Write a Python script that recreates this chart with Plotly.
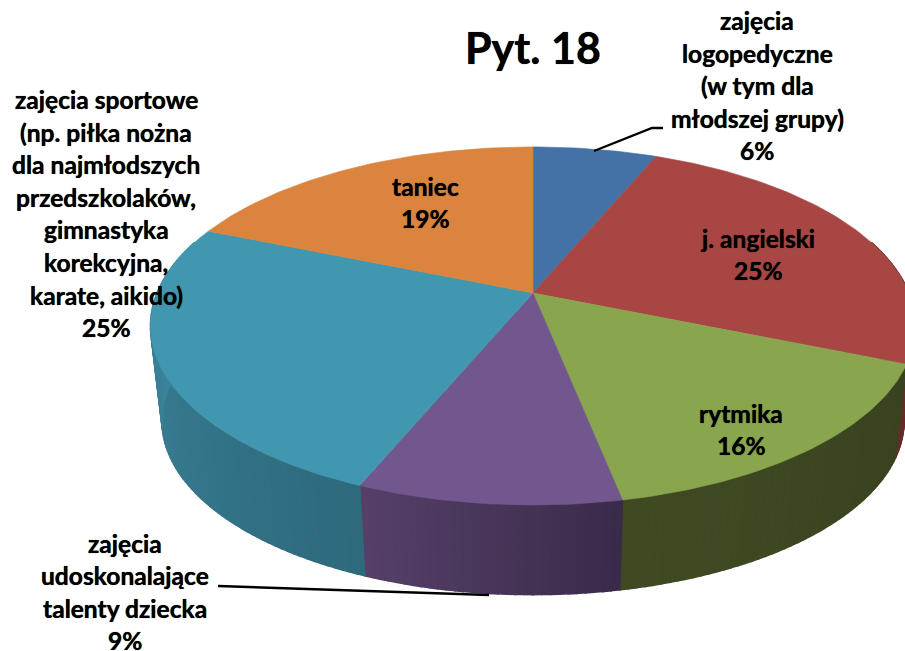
import math
import plotly.graph_objects as go

title = "Pyt. 18"
categories = [
    "zajęcia logopedyczne (w tym dla młodszej grupy)",
    "j. angielski",
    "rytmika",
    "zajęcia udoskonalające talenty dziecka",
    "zajęcia sportowe (np. piłka nożna dla najmłodszych przedszkolaków, gimnastyka korekcyjna, karate, aikido)",
    "taniec",
]
values = [2, 8, 5, 3, 8, 6]
label_lines = [
    ["zajęcia", "logopedyczne", "(w tym dla", "młodszej grupy)"],
    ["j. angielski"],
    ["rytmika"],
    ["zajęcia", "udoskonalające", "talenty dziecka"],
    ["zajęcia sportowe", "(np. piłka nożna", "dla najmłodszych", "przedszkolaków,", "gimnastyka", "korekcyjna,", "karate, aikido)"],
    ["taniec"],
]
top_colors = ["#4471A6", "#A84644", "#89A54E", "#71578D", "#4197AF", "#DA843D"]
side_colors = [
    ("#2A4565", "#2A4565"),
    ("#5E2624", "#6A2A28"),
    ("#3A4220", "#3F4A22"),
    ("#3A2B49", "#564069"),
    ("#2E697C", "#408CA4"),
    ("#8A5226", "#8A5226"),
]
# label placement: centre x, first line y, line pitch
label_pos = [(757, 20.5), (758, 238), (741, 413), (125, 543), (106, 99.5), (425, 186)]
PITCH = 32.6
SHADOW = "0px 0px 0.7px black"

# projection of the round pie
CX, CY, A, B, K = 533, 293, 173, 376, 0.184
CY2, S = 389, 0.97


def proj(theta, lower=False):
    u, v = math.sin(theta), -math.cos(theta)
    w = 1 - K * v
    s, cy = (S, CY2) if lower else (1.0, CY)
    return CX + s * B * u / w, cy + s * A * v / w


def hex2rgb(h):
    return tuple(int(h[i:i + 2], 16) for i in (1, 3, 5))


def mix(c1, c2, t):
    a, b = hex2rgb(c1), hex2rgb(c2)
    return "rgb({},{},{})".format(*(round(a[i] + (b[i] - a[i]) * t) for i in range(3)))


fig = go.Figure()
total = sum(values)
edges = [0]
for v in values:
    edges.append(edges[-1] + v)

# side wall (only the part turned to the viewer shows)
for i, v in enumerate(values):
    n = v * 10
    for j in range(n):
        t0 = 2 * math.pi * (edges[i] + v * j / n) / total
        t1 = 2 * math.pi * (edges[i] + v * (j + 1) / n) / total
        if math.cos((t0 + t1) / 2) > 0.3:
            continue
        p = [proj(t0 + (t1 - t0) * q / 4) for q in range(5)]
        p += [proj(t1 - (t1 - t0) * q / 4, lower=True) for q in range(5)]
        col = mix(side_colors[i][0], side_colors[i][1], (j + 0.5) / n)
        fig.add_trace(go.Scatter(
            x=[c[0] for c in p] + [p[0][0]], y=[c[1] for c in p] + [p[0][1]],
            mode="lines", fill="toself", fillcolor=col,
            line=dict(color=col, width=1.5), hoverinfo="skip", showlegend=False))

# top face
for i, v in enumerate(values):
    n = v * 12
    pts = [(CX, CY)]
    for j in range(n + 1):
        pts.append(proj(2 * math.pi * (edges[i] + v * j / n) / total))
    pts.append((CX, CY))
    fig.add_trace(go.Scatter(
        x=[c[0] for c in pts], y=[c[1] for c in pts],
        mode="lines", fill="toself", fillcolor=top_colors[i],
        line=dict(color=top_colors[i], width=0.6),
        name=categories[i], hoverinfo="name", showlegend=False))

# leader lines
for xs, ys in [([594, 652, 663], [151, 128, 128]), ([218, 489], [586, 595])]:
    fig.add_trace(go.Scatter(x=xs, y=ys, mode="lines", line=dict(color="black", width=2.4),
                             hoverinfo="skip", showlegend=False))

annotations = [dict(x=533, y=47, text=title, showarrow=False, xanchor="center", yanchor="middle",
                    font=dict(family="Lato", size=43, color="black", weight="bold", shadow=SHADOW))]
for lines, v, (lx, ly) in zip(label_lines, values, label_pos):
    pct = round(100 * v / total)
    for k, line in enumerate(lines + [f"{pct}%"]):
        annotations.append(dict(x=lx, y=ly + k * PITCH, text=line, showarrow=False,
                                xanchor="center", yanchor="middle",
                                font=dict(family="Lato", size=24.6, color="black", weight="bold", shadow=SHADOW)))

fig.update_layout(
    width=905, height=651, margin=dict(l=0, r=0, t=0, b=0),
    paper_bgcolor="white", plot_bgcolor="white", showlegend=False,
    xaxis=dict(range=[0, 905], visible=False, fixedrange=True),
    yaxis=dict(range=[651, 0], visible=False, fixedrange=True),
    annotations=annotations,
)
fig.write_html("out.html", config={"displayModeBar": False},
               post_script="document.body.style.margin='0';")
